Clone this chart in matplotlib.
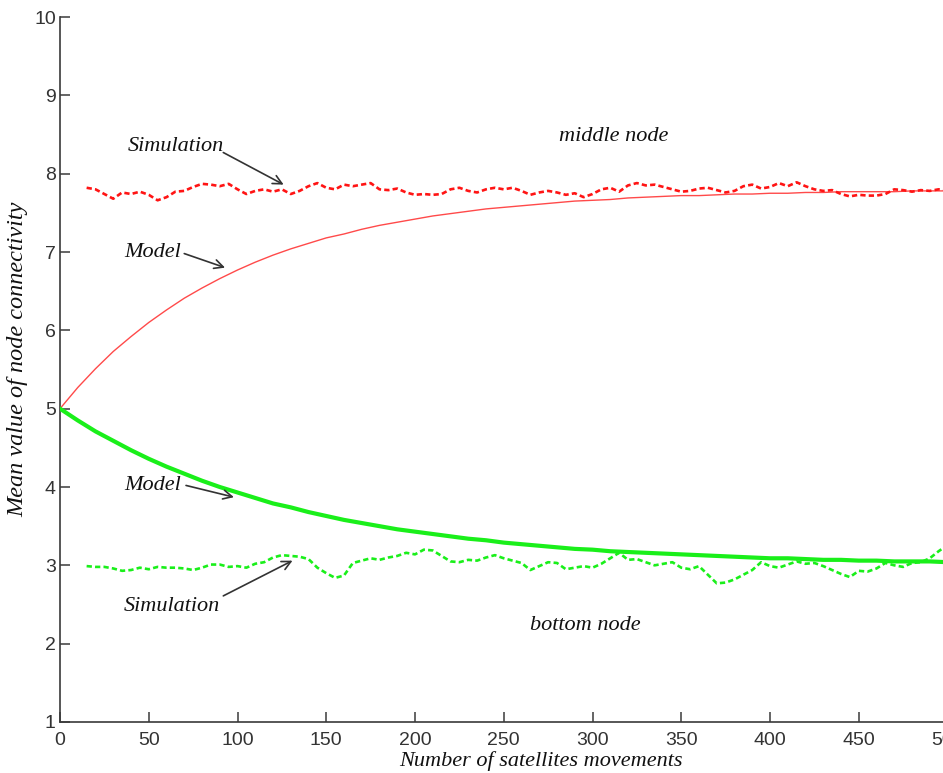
import numpy as np
import matplotlib
matplotlib.use("Agg")
import matplotlib.pyplot as plt

# ---- data -------------------------------------------------------------
model_x = list(range(0, 501, 10))
middle_model = [5.00, 5.27, 5.51, 5.73, 5.92, 6.10, 6.26, 6.41, 6.54, 6.66,
                6.77, 6.87, 6.96, 7.04, 7.11, 7.18, 7.23, 7.29, 7.34, 7.38,
                7.42, 7.46, 7.49, 7.52, 7.55, 7.57, 7.59, 7.61, 7.63, 7.65,
                7.66, 7.67, 7.69, 7.70, 7.71, 7.72, 7.72, 7.73, 7.74, 7.74,
                7.75, 7.75, 7.76, 7.76, 7.77, 7.77, 7.77, 7.77, 7.78, 7.78,
                7.78]
bottom_model = [5.00, 4.85, 4.71, 4.59, 4.47, 4.36, 4.26, 4.17, 4.08, 4.00,
                3.93, 3.86, 3.79, 3.74, 3.68, 3.63, 3.58, 3.54, 3.50, 3.46,
                3.43, 3.40, 3.37, 3.34, 3.32, 3.29, 3.27, 3.25, 3.23, 3.21,
                3.20, 3.18, 3.17, 3.16, 3.15, 3.14, 3.13, 3.12, 3.11, 3.10,
                3.09, 3.09, 3.08, 3.07, 3.07, 3.06, 3.06, 3.05, 3.05, 3.05,
                3.04]

sim_x = list(range(15, 501, 5))
middle_sim = [7.82, 7.80, 7.74, 7.68, 7.76, 7.74, 7.77, 7.73, 7.66, 7.70,
              7.77, 7.78, 7.83, 7.87, 7.86, 7.84, 7.87, 7.80, 7.74, 7.78,
              7.80, 7.77, 7.80, 7.74, 7.78, 7.84, 7.88, 7.82, 7.80, 7.86,
              7.84, 7.86, 7.88, 7.80, 7.79, 7.81, 7.76, 7.73, 7.74, 7.73,
              7.74, 7.80, 7.82, 7.78, 7.76, 7.80, 7.82, 7.80, 7.82, 7.78,
              7.73, 7.76, 7.78, 7.76, 7.73, 7.75, 7.70, 7.74, 7.80, 7.82,
              7.77, 7.85, 7.88, 7.85, 7.86, 7.83, 7.80, 7.77, 7.78, 7.81,
              7.82, 7.79, 7.76, 7.78, 7.84, 7.86, 7.81, 7.83, 7.88, 7.84,
              7.89, 7.84, 7.80, 7.78, 7.79, 7.74, 7.71, 7.73, 7.72, 7.72,
              7.74, 7.80, 7.79, 7.77, 7.79, 7.78, 7.80, 7.79]
bottom_sim = [2.99, 2.98, 2.98, 2.96, 2.93, 2.94, 2.97, 2.95, 2.98, 2.97,
              2.97, 2.96, 2.94, 2.97, 3.01, 3.01, 2.98, 2.99, 2.97, 3.02,
              3.04, 3.10, 3.13, 3.12, 3.11, 3.08, 2.97, 2.90, 2.84, 2.87,
              3.03, 3.06, 3.09, 3.07, 3.10, 3.12, 3.16, 3.14, 3.20, 3.19,
              3.12, 3.05, 3.04, 3.07, 3.06, 3.10, 3.13, 3.09, 3.06, 3.03,
              2.94, 2.99, 3.04, 3.03, 2.95, 2.97, 2.99, 2.97, 3.02, 3.09,
              3.16, 3.07, 3.08, 3.04, 3.00, 3.02, 3.04, 2.97, 2.95, 2.99,
              2.88, 2.77, 2.78, 2.82, 2.88, 2.94, 3.04, 2.99, 2.97, 3.01,
              3.05, 3.02, 3.03, 2.99, 2.94, 2.89, 2.85, 2.93, 2.92, 2.96,
              3.03, 3.00, 2.98, 3.03, 3.04, 3.09, 3.18, 3.26]

x_ticks = [0, 50, 100, 150, 200, 250, 300, 350, 400, 450, 500]
y_ticks = [1, 2, 3, 4, 5, 6, 7, 8, 9, 10]

# ---- figure -----------------------------------------------------------
W, H = 943, 773
fig = plt.figure(figsize=(W / 100, H / 100), dpi=100)
ax = fig.add_axes([60 / W, 51 / H, 887.5 / W, 705 / H])

red_sim = "#ff1414"
red_model = "#ff4a4a"
green = "#1aef1a"

ax.plot(model_x, middle_model, color=red_model, lw=1.0, zorder=3)
ax.plot(sim_x, middle_sim, color=red_sim, lw=1.9, dashes=(2.0, 1.2), zorder=4)
ax.plot(model_x, bottom_model, color=green, lw=3.0, zorder=3)
ax.plot(sim_x, bottom_sim, color=green, lw=1.9, dashes=(2.0, 1.2), zorder=4)

ax.set_xlim(0, 500)
ax.set_ylim(1, 10)
ax.set_xticks(x_ticks)
ax.set_yticks(y_ticks)

for s in ("top", "right"):
    ax.spines[s].set_visible(False)
for s in ("left", "bottom"):
    ax.spines[s].set_color("#3a3a3a")
    ax.spines[s].set_linewidth(1.2)

ax.tick_params(axis="both", direction="in", length=7, width=1.1,
               color="#3a3a3a", labelcolor="#333333")
ax.tick_params(axis="x", pad=7)
ax.tick_params(axis="y", pad=3)
for lab in ax.get_xticklabels() + ax.get_yticklabels():
    lab.set_fontfamily("Liberation Sans")
    lab.set_fontsize(14)

serif = dict(family="Liberation Serif", style="italic", size=16, color="#111111")

# axis titles placed in figure pixels
fig.text(541 / W, 1 - 761 / H, "Number of satellites movements",
         ha="center", va="center", family="Liberation Serif", style="italic",
         size=16, color="#111111")
fig.text(18 / W, 1 - 359 / H, "Mean value of node connectivity",
         ha="center", va="center", rotation=90, family="Liberation Serif",
         style="italic", size=17.5, color="#111111")

# ---- annotations ------------------------------------------------------
arrow = dict(arrowstyle="->", color="#333333", lw=1.2,
             mutation_scale=16, shrinkA=0, shrinkB=0)

ax.text(65, 8.35, "Simulation", ha="center", va="center", **serif)
ax.annotate("", xy=(126, 7.86), xytext=(92, 8.27), arrowprops=arrow)
ax.text(52, 6.99, "Model", ha="center", va="center", **serif)
ax.annotate("", xy=(93, 6.80), xytext=(70, 6.98), arrowprops=arrow)
ax.text(52, 4.02, "Model", ha="center", va="center", **serif)
ax.annotate("", xy=(98, 3.87), xytext=(71, 4.02), arrowprops=arrow)
ax.text(63, 2.48, "Simulation", ha="center", va="center", **serif)
ax.annotate("", xy=(131, 3.06), xytext=(92, 2.61), arrowprops=arrow)

ax.text(312, 8.47, "middle node", ha="center", va="center", **serif)
ax.text(296, 2.23, "bottom node", ha="center", va="center", **serif)

fig.savefig("out.png", dpi=100)
